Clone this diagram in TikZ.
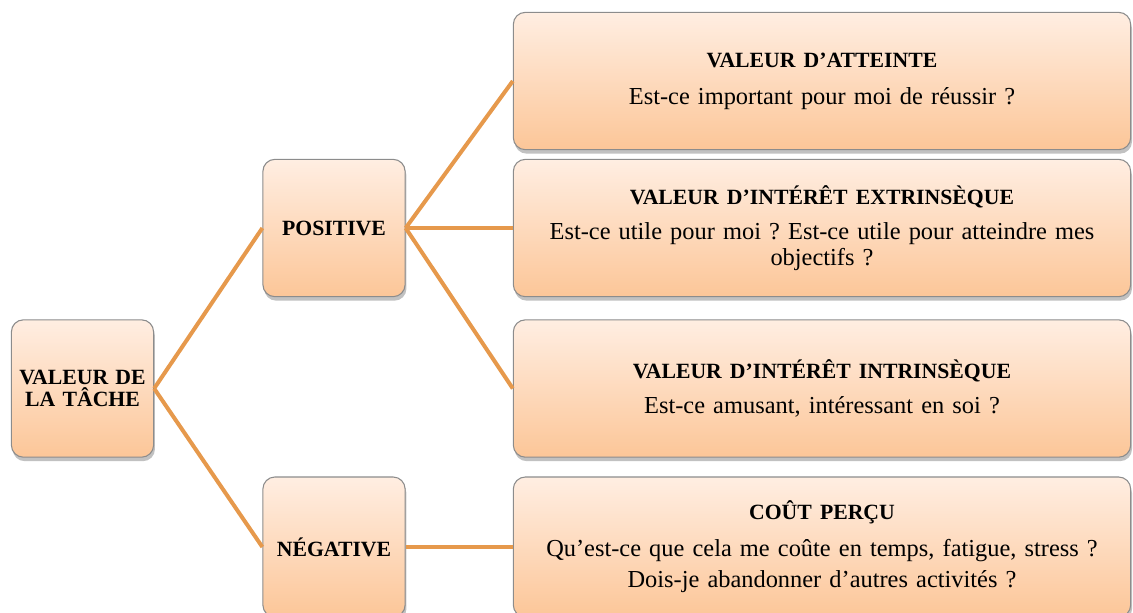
\documentclass[tikz,border=0pt]{standalone}
\usepackage{fontspec}
\setmainfont{Liberation Serif}
\usetikzlibrary{shadows}
\definecolor{linec}{HTML}{E6994C}
\definecolor{topc}{HTML}{FFEEE2}
\definecolor{botc}{HTML}{FCC698}
\definecolor{edgec}{HTML}{8C8C8C}
\frenchspacing
\newcommand{\ttl}[1]{{\fontsize{16.3}{17.5}\selectfont\bfseries #1}}
\tikzset{
  box/.style={rectangle, rounded corners=9pt, draw=edgec, line width=0.8pt,
    top color=topc, bottom color=botc, align=center,
    drop shadow={shadow xshift=1pt, shadow yshift=-3pt, opacity=0.35, fill=black!70}},
  small/.style={box, minimum width=106pt, minimum height=103pt, text width=100pt,
    font=\fontsize{16.3}{17.5}\selectfont\bfseries},
  wide/.style={box, minimum width=463pt, minimum height=103pt, text width=450pt,
    font=\fontsize{18.3}{19.5}\selectfont},
  conn/.style={draw=linec, line width=3pt}
}
\begin{document}
\begin{tikzpicture}[x=0.75pt,y=-0.75pt]
\useasboundingbox (0,0) rectangle (1133,612);
\node[small] (A) at (82.5,388.5) {VALEUR DE\\[-1pt]LA TÂCHE};
\node[small] (P) at (334,228) {POSITIVE};
\node[small, minimum height=105pt] (N) at (334,547) {NÉGATIVE};
\node[wide] (R1) at (822,81) {\ttl{VALEUR D’ATTEINTE}\\[8.25pt]Est-ce important pour moi de réussir ?};
\node[wide] (R2) at (822,228) {\ttl{VALEUR D’INTÉRÊT EXTRINSÈQUE}\\[6.75pt]Est-ce utile pour moi ? Est-ce utile pour atteindre mes\\objectifs ?};
\node[wide] (R3) at (822,388.5) {\ttl{VALEUR D’INTÉRÊT INTRINSÈQUE}\\[6.75pt]Est-ce amusant, intéressant en soi ?};
\node[wide, minimum height=105pt] (R4) at (822,547) {\ttl{COÛT PERÇU}\\[8.25pt]Qu’est-ce que cela me coûte en temps, fatigue, stress ?\\[3.75pt]Dois-je abandonner d’autres activités ?};
\draw[conn] (A.east) -- (P.west);
\draw[conn] (A.east) -- (N.west);
\draw[conn] (P.east) -- (R1.west);
\draw[conn] (P.east) -- (R2.west);
\draw[conn] (P.east) -- (R3.west);
\draw[conn] (N.east) -- (R4.west);
\end{tikzpicture}
\end{document}
